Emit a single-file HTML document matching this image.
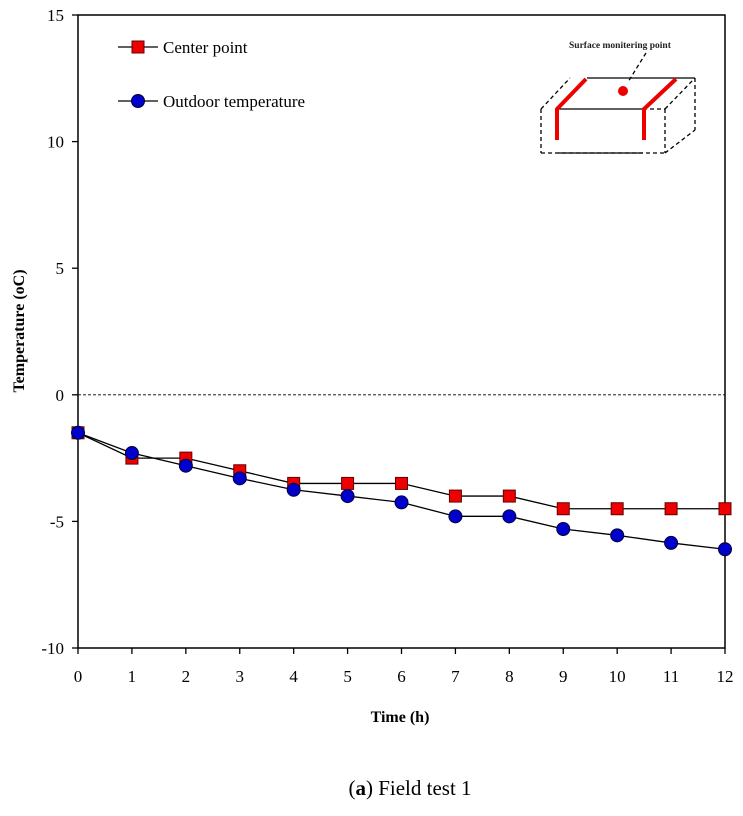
<!DOCTYPE html>
<html><head><meta charset="utf-8"><style>
body{margin:0;background:#fff;}
svg text{font-family:"Liberation Serif",serif;}
</style></head><body>
<svg width="743" height="811" id="chart">
<rect x="0" y="0" width="743" height="811" fill="#fff"/>
<g id="frame"></g>
<g id="marks"></g>
<g>
 <line x1="118" y1="47" x2="158" y2="47" stroke="#000" stroke-width="1.3"/>
 <rect x="132" y="41" width="12" height="12" fill="#e00" stroke="#600"/>
 <text x="163" y="53" font-size="17">Center point</text>
 <line x1="118" y1="101" x2="158" y2="101" stroke="#000" stroke-width="1.3"/>
 <circle cx="138" cy="101" r="6.5" fill="#00c" stroke="#003"/>
 <text x="163" y="107" font-size="17">Outdoor temperature</text>
</g>
<g stroke-width="1.3">
 <text x="569" y="48" font-size="9.5" font-family="Liberation Sans" font-weight="bold" fill="#222">Surface monitering point</text>
 <line x1="646" y1="53" x2="628" y2="82" stroke="#000" stroke-dasharray="4,3"/>
 <line x1="587" y1="78" x2="695" y2="78" stroke="#000"/>
 <line x1="558" y1="109" x2="643" y2="109" stroke="#000"/>
 <line x1="541" y1="153" x2="665" y2="153" stroke="#000" stroke-dasharray="4,3"/>
 <line x1="558" y1="153" x2="643" y2="153" stroke="#000"/>
 <line x1="541" y1="109" x2="541" y2="153" stroke="#000" stroke-dasharray="4,3"/>
 <line x1="541" y1="109" x2="570" y2="78" stroke="#000" stroke-dasharray="4,3"/>
 <line x1="643" y1="109" x2="665" y2="109" stroke="#000" stroke-dasharray="4,3"/>
 <line x1="665" y1="109" x2="665" y2="153" stroke="#000" stroke-dasharray="4,3"/>
 <line x1="665" y1="153" x2="695" y2="130" stroke="#000" stroke-dasharray="4,3"/>
 <line x1="695" y1="78" x2="695" y2="130" stroke="#000" stroke-dasharray="4,3"/>
 <line x1="665" y1="109" x2="695" y2="78" stroke="#000" stroke-dasharray="4,3"/>
 <polyline points="557,140 557,109 586,79" fill="none" stroke="#e00" stroke-width="4"/>
 <polyline points="644,140 644,109 676,79" fill="none" stroke="#e00" stroke-width="4"/>
 <circle cx="623" cy="91" r="5" fill="#e00"/>
</g>
<text x="400" y="722" font-size="16" font-weight="bold" text-anchor="middle">Time (h)</text>
<text transform="translate(24,331) rotate(-90)" font-size="16" font-weight="bold" text-anchor="middle">Temperature  (oC)</text>
<text x="410" y="795" font-size="21" text-anchor="middle">(<tspan font-weight="bold">a</tspan>) Field test 1</text>
</svg>
<script>
const hours=[0,1,2,3,4,5,6,7,8,9,10,11,12];
const centerPoint=[-1.5,-2.5,-2.5,-3,-3.5,-3.5,-3.5,-4,-4,-4.5,-4.5,-4.5,-4.5];
const outdoorTemp=[-1.5,-2.3,-2.8,-3.3,-3.75,-4,-4.25,-4.8,-4.8,-5.3,-5.55,-5.85,-6.1];
const yTicks=[15,10,5,0,-5,-10];
const xTicks=[0,1,2,3,4,5,6,7,8,9,10,11,12];
const X0=78,X1=725,Ytop=15,Ybot=648;
const xs=v=>X0+(v-0)/12*(X1-X0);
const ys=v=>Ybot-(v+10)/25*(Ybot-Ytop);
const NS='http://www.w3.org/2000/svg';
const frame=document.getElementById('frame'),marks=document.getElementById('marks');
function mk(tag,attrs,parent){const e=document.createElementNS(NS,tag);for(const k in attrs)e.setAttribute(k,attrs[k]);parent.appendChild(e);return e;}
let r=mk('rect',{x:X0,y:Ytop,width:X1-X0,height:Ybot-Ytop,fill:'none',stroke:'#000','stroke-width':1.5},frame);


let z=mk('line',{x1:X0,x2:X1,y1:ys(0),y2:ys(0),stroke:'#000','stroke-width':0.8,'stroke-dasharray':'3,2'},frame);


yTicks.forEach(v=>{
 mk('line',{x1:X0-6,x2:X0,y1:ys(v),y2:ys(v),stroke:'#000','stroke-width':1.3},frame);
 const t=mk('text',{x:X0-14,y:ys(v)+6,'font-size':17,'text-anchor':'end'},frame);t.textContent=v;
 
 
});
xTicks.forEach(v=>{
 mk('line',{x1:xs(v),x2:xs(v),y1:Ybot,y2:Ybot+6,stroke:'#000','stroke-width':1.3},frame);
 const t=mk('text',{x:xs(v),y:Ybot+34,'font-size':17,'text-anchor':'middle'},frame);t.textContent=v;
 
 
});
function series(vals,name,shape){
 const l=mk('polyline',{points:hours.map((h,i)=>xs(h)+','+ys(vals[i])).join(' '),fill:'none',stroke:'#000','stroke-width':1.3},marks);
 
 
 hours.forEach((h,i)=>{
  let m;
  if(shape==='sq')m=mk('rect',{x:xs(h)-6,y:ys(vals[i])-6,width:12,height:12,fill:'#e00',stroke:'#600'},marks);
  else m=mk('circle',{cx:xs(h),cy:ys(vals[i]),r:6.5,fill:'#00c',stroke:'#003'},marks);
  
  
 });
}
series(centerPoint,'center-point','sq');
series(outdoorTemp,'outdoor-temperature','ci');
</script>
</body></html>
